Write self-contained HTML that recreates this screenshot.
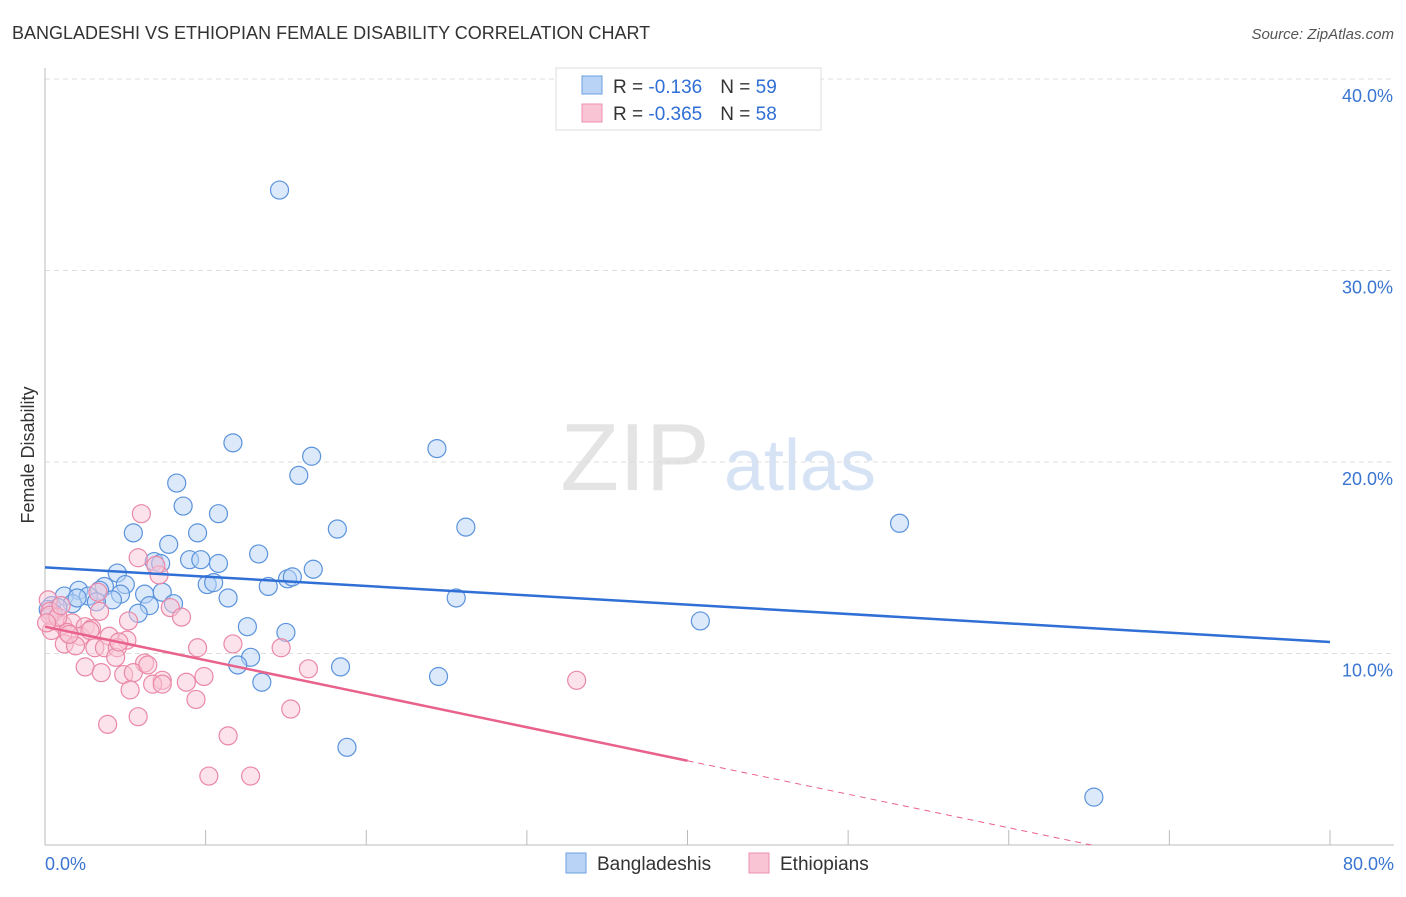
<!DOCTYPE html>
<html><head><meta charset="utf-8"><style>
body{margin:0;background:#fff;font-family:"Liberation Sans",sans-serif}
svg text{font-family:"Liberation Sans",sans-serif}
</style></head><body>
<svg width="1406" height="892" xmlns="http://www.w3.org/2000/svg" id="chart">
<text x="12" y="39" font-size="18" fill="#333">BANGLADESHI VS ETHIOPIAN FEMALE DISABILITY CORRELATION CHART</text>
<text x="1394" y="39" font-size="15" fill="#555" text-anchor="end" font-style="italic">Source: ZipAtlas.com</text>
<text x="34" y="455" font-size="18" fill="#333" text-anchor="middle" transform="rotate(-90 34 455)">Female Disability</text>
<g><text x="635" y="490" font-size="96" fill="#e4e4e4" text-anchor="middle" font-family="Liberation Serif">ZIP</text><text x="800" y="490" font-size="72" fill="#d6e3f5" text-anchor="middle">atlas</text></g>
<g id="grid"></g><g id="axes"></g><g id="pts"></g><g id="trend"></g>
<g>
<rect x="556" y="68" width="265" height="62" fill="#fff" stroke="#ddd"/>
<rect x="582" y="76" width="20" height="18" fill="#b8d3f5" stroke="#6a9fe0"/>
<rect x="582" y="104" width="20" height="18" fill="#f9c5d5" stroke="#ee8fad"/>
<text x="613" y="93" font-size="19" fill="#333">R = <tspan fill="#2f6fd6">-0.136</tspan><tspan dx="18">N = </tspan><tspan fill="#2f6fd6">59</tspan></text>
<text x="613" y="120" font-size="19" fill="#333">R = <tspan fill="#2f6fd6">-0.365</tspan><tspan dx="18">N = </tspan><tspan fill="#2f6fd6">58</tspan></text>
</g>
<g>
<rect x="566" y="853" width="20" height="20" fill="#b8d3f5" stroke="#6a9fe0"/>
<text x="597" y="870" font-size="19" fill="#333">Bangladeshis</text>
<rect x="749" y="853" width="20" height="20" fill="#f9c5d5" stroke="#ee8fad"/>
<text x="780" y="870" font-size="19" fill="#333">Ethiopians</text>
</g>
<text x="45" y="870" font-size="18" fill="#3a75d1">0.0%</text>
<text x="1394" y="870" font-size="18" fill="#3a75d1" text-anchor="end">80.0%</text>
</svg>
<script>
const yTicks=[10,20,30,40];
const yTickLabels=["10.0%","20.0%","30.0%","40.0%"];
const xTicks=[0,10,20,30,40,50,60,70,80];
const blueX=[14.6,11.7,24.4,16.6,15.8,8.2,8.6,10.8,26.2,18.2,5.5,9.5,7.7,13.3,6.8,9.0,9.7,10.8,16.7,4.5,15.1,15.4,10.1,10.5,13.9,3.7,5.0,2.1,3.4,1.2,2.7,6.2,7.3,4.7,11.4,4.2,3.2,1.7,0.4,0.8,6.5,8.0,25.6,5.8,0.5,12.6,40.8,15.0,12.8,12.0,18.4,13.5,24.5,53.2,18.8,65.3,7.2,0.2,2.0];
const blueY=[34.2,21.0,20.7,20.3,19.3,18.9,17.7,17.3,16.6,16.5,16.3,16.3,15.7,15.2,14.8,14.9,14.9,14.7,14.4,14.2,13.9,14.0,13.6,13.7,13.5,13.5,13.6,13.3,13.3,13.0,13.0,13.1,13.2,13.1,12.9,12.8,12.7,12.6,12.5,12.4,12.5,12.6,12.9,12.1,12.1,11.4,11.7,11.1,9.8,9.4,9.3,8.5,8.8,16.8,5.1,2.5,14.7,12.3,12.9];
const pinkX=[6.0,5.8,7.1,6.9,7.8,8.5,5.2,3.4,0.2,0.3,0.6,1.1,1.7,2.5,0.4,1.4,2.2,4.0,5.1,2.9,1.2,1.9,3.1,3.7,4.5,9.5,11.7,14.7,6.2,4.4,2.5,3.5,4.9,5.5,6.4,16.4,9.9,7.3,6.7,8.8,7.3,33.1,5.3,9.4,15.3,5.8,3.9,11.4,10.2,12.8,0.3,0.8,1.5,2.8,4.6,0.1,1.0,3.3];
const pinkY=[17.3,15.0,14.1,14.6,12.4,11.9,11.7,12.2,12.8,12.2,11.7,11.5,11.6,11.4,11.2,11.1,10.9,10.9,10.7,11.3,10.5,10.4,10.3,10.3,10.3,10.3,10.5,10.3,9.5,9.8,9.3,9.0,8.9,9.0,9.4,9.2,8.8,8.6,8.4,8.5,8.4,8.6,8.1,7.6,7.1,6.7,6.3,5.7,3.6,3.6,12.0,11.9,11.0,11.2,10.6,11.6,12.5,13.2];
const blueTrend=[14.5,10.6];   // y at x=0, y at x=80
const pinkTrend=[11.4,4.4,40]; // y at 0, y at solid-end x, solid-end x
const NS="http://www.w3.org/2000/svg";
const X0=45,X1=1330,Y0=845,PY=19.15;
const sx=v=>X0+(v/80)*(X1-X0);
const sy=v=>Y0-v*PY;
function mk(tag,attrs,parent){const e=document.createElementNS(NS,tag);for(const k in attrs)e.setAttribute(k,attrs[k]);document.getElementById(parent).appendChild(e);return e;}
yTicks.forEach((t,i)=>{
 const l=mk('line',{x1:X0,x2:1394,y1:sy(t),y2:sy(t),stroke:'#ddd','stroke-dasharray':'5,4'},'grid');
 
 
 const tx=mk('text',{x:1393,y:sy(t)+23,'font-size':18,fill:'#3a75d1','text-anchor':'end'},'grid');
 tx.textContent=yTickLabels[i];
 
 
});
const ax=mk('line',{x1:X0,x2:X0,y1:68,y2:Y0,stroke:'#bbb'},'axes');


const bx=mk('line',{x1:X0,x2:1394,y1:Y0,y2:Y0,stroke:'#bbb'},'axes');


xTicks.forEach(t=>{
 const l=mk('line',{x1:sx(t),x2:sx(t),y1:Y0-15,y2:Y0,stroke:'#bbb'},'axes');
 
 
});
function pts(xs,ys,fill,stroke,name){xs.forEach((x,i)=>{
 const c=mk('circle',{cx:sx(x),cy:sy(ys[i]),r:9,fill:fill,'fill-opacity':0.5,stroke:stroke,'stroke-width':1.2},'pts');
 
 
});}
pts(blueX,blueY,'#b8d3f5','#5b93dc','point-bangladeshi');
pts(pinkX,pinkY,'#f9c5d5','#ea88a7','point-ethiopian');
const bt=mk('line',{x1:sx(0),y1:sy(blueTrend[0]),x2:sx(80),y2:sy(blueTrend[1]),stroke:'#2f6fd6','stroke-width':2.5},'trend');


const slope=(pinkTrend[1]-pinkTrend[0])/pinkTrend[2];
const pt=mk('line',{x1:sx(0),y1:sy(pinkTrend[0]),x2:sx(pinkTrend[2]),y2:sy(pinkTrend[1]),stroke:'#e8628c','stroke-width':2.5},'trend');


const xEnd=-pinkTrend[0]/slope;
const pd=mk('line',{x1:sx(pinkTrend[2]),y1:sy(pinkTrend[1]),x2:sx(xEnd),y2:sy(0),stroke:'#e8628c','stroke-width':1,'stroke-dasharray':'6,5'},'trend');


</script>
</body></html>
